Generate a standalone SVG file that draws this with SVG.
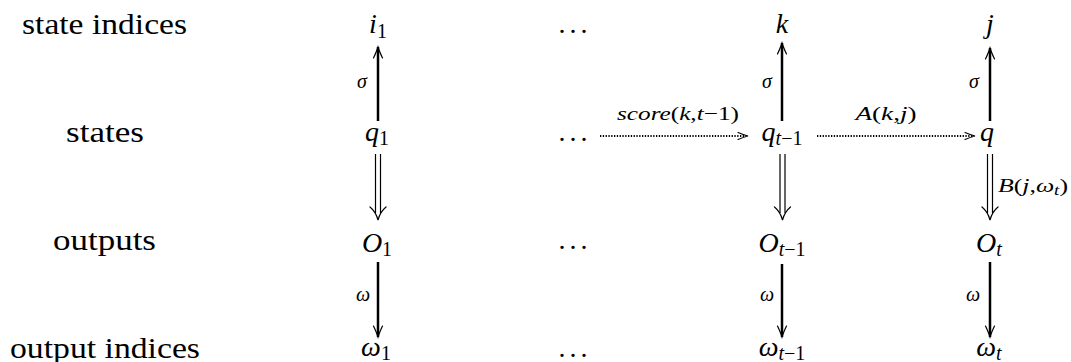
<svg xmlns="http://www.w3.org/2000/svg" width="1071" height="362" viewBox="0 0 1071 362" font-family="Liberation Serif">
<style>
.t{font-family:"Liberation Serif",serif;fill:#000}
.lbl{font-size:30px}
.m{font-size:28px;text-anchor:middle}
.it{font-style:italic}
.sub{font-size:20px;font-style:normal}
.subi{font-size:20px;font-style:italic}
.s{font-size:19px}
.gl{font-size:20px;font-style:italic}
.dots{font-size:28px;text-anchor:middle;letter-spacing:4px}
.solid{stroke:#000;stroke-width:2.5;fill:none}
.dbl{stroke:#000;stroke-width:1.2;fill:none}
.dot{stroke:#000;stroke-width:2.2;fill:none;stroke-dasharray:1.3 1.5}
.head{stroke:#000;stroke-width:1.2;fill:none;stroke-linecap:round}
</style>
<defs>
<marker id="vee" viewBox="-12 -6 14 12" refX="0" refY="0" markerWidth="14" markerHeight="12" markerUnits="userSpaceOnUse" orient="auto">
<path d="M-11,-4.5 Q-4,-1.2 0,0 Q-4,1.2 -11,4.5" class="head"/>
</marker>
</defs>

<g id="row-labels">
<text class="t lbl" font-family="Liberation Serif" x="22" y="34" textLength="165" lengthAdjust="spacingAndGlyphs">state indices</text>
<text class="t lbl" font-family="Liberation Serif" x="66" y="142" textLength="78" lengthAdjust="spacingAndGlyphs">states</text>
<text class="t lbl" font-family="Liberation Serif" x="53" y="250" textLength="103" lengthAdjust="spacingAndGlyphs">outputs</text>
<text class="t lbl" font-family="Liberation Serif" x="10" y="358" textLength="190" lengthAdjust="spacingAndGlyphs">output indices</text>
</g>

<g id="n-i1"><text class="t m" font-family="Liberation Serif" x="378" y="33"><tspan class="it">i</tspan><tspan class="sub" dy="5">1</tspan></text></g>
<g id="n-k"><text class="t m it" font-family="Liberation Serif" x="782" y="33">k</text></g>
<g id="n-j"><text class="t m it" font-family="Liberation Serif" x="990" y="33">j</text></g>

<g id="n-q1"><text class="t m" font-family="Liberation Serif" x="377" y="141"><tspan class="it">q</tspan><tspan class="sub" dy="4">1</tspan></text></g>
<g id="n-qt1"><text class="t m" font-family="Liberation Serif" x="782" y="141"><tspan class="it">q</tspan><tspan class="subi" dy="4">t</tspan><tspan class="sub">−1</tspan></text></g>
<g id="n-q"><text class="t m it" font-family="Liberation Serif" x="987" y="141">q</text></g>

<g id="n-O1"><text class="t m" font-family="Liberation Serif" x="377" y="252"><tspan class="it">O</tspan><tspan class="sub" dy="4">1</tspan></text></g>
<g id="n-Ot1"><text class="t m" font-family="Liberation Serif" x="782" y="252"><tspan class="it">O</tspan><tspan class="subi" dy="4">t</tspan><tspan class="sub">−1</tspan></text></g>
<g id="n-Ot"><text class="t m" font-family="Liberation Serif" x="989" y="252"><tspan class="it">O</tspan><tspan class="subi" dy="4">t</tspan></text></g>

<g id="n-w1"><text class="t m" font-family="Liberation Serif" x="376" y="356"><tspan class="it">ω</tspan><tspan class="sub" dy="4">1</tspan></text></g>
<g id="n-wt1"><text class="t m" font-family="Liberation Serif" x="782" y="356"><tspan class="it">ω</tspan><tspan class="subi" dy="4">t</tspan><tspan class="sub">−1</tspan></text></g>
<g id="n-wt"><text class="t m" font-family="Liberation Serif" x="989" y="356"><tspan class="it">ω</tspan><tspan class="subi" dy="4">t</tspan></text></g>

<g id="ellipses">
<text class="t dots" font-family="Liberation Serif" x="575" y="33">...</text>
<text class="t dots" font-family="Liberation Serif" x="575" y="141">...</text>
<text class="t dots" font-family="Liberation Serif" x="575" y="249">...</text>
<text class="t dots" font-family="Liberation Serif" x="575" y="357">...</text>
</g>

<g id="connectors">
<line class="solid" x1="378" y1="121" x2="378" y2="47" marker-end="url(#vee)"/>
<line class="solid" x1="782" y1="121" x2="782" y2="43" marker-end="url(#vee)"/>
<line class="solid" x1="990" y1="121" x2="990" y2="48" marker-end="url(#vee)"/>

<line class="dbl" x1="375.5" y1="154" x2="375.5" y2="213"/>
<line class="dbl" x1="380.5" y1="154" x2="380.5" y2="213"/>
<path class="head" d="M370,207 Q376,212 378,220 Q380,212 386,207"/>
<line class="dbl" x1="780" y1="154" x2="780" y2="213"/>
<line class="dbl" x1="785" y1="154" x2="785" y2="213"/>
<path class="head" d="M774.5,207 Q780.5,212 782.5,220 Q784.5,212 790.5,207"/>
<line class="dbl" x1="987.5" y1="154" x2="987.5" y2="213"/>
<line class="dbl" x1="992.5" y1="154" x2="992.5" y2="213"/>
<path class="head" d="M982,207 Q988,212 990,220 Q992,212 998,207"/>

<line class="solid" x1="378" y1="262" x2="378" y2="337" marker-end="url(#vee)"/>
<line class="solid" x1="782" y1="264" x2="782" y2="337" marker-end="url(#vee)"/>
<line class="solid" x1="990" y1="262" x2="990" y2="337" marker-end="url(#vee)"/>

<line class="dot" x1="600" y1="136" x2="746" y2="136"/>
<path class="head" d="M738,132.5 Q744,135 748,136 Q744,137 738,139.5"/>
<line class="dot" x1="817" y1="136" x2="973" y2="136"/>
<path class="head" d="M965,132.5 Q971,135 975,136 Q971,137 965,139.5"/>

<text class="t gl" font-family="Liberation Serif" x="357" y="88">σ</text>
<text class="t gl" font-family="Liberation Serif" x="762" y="88">σ</text>
<text class="t gl" font-family="Liberation Serif" x="969" y="88">σ</text>
<text class="t gl" font-family="Liberation Serif" x="356" y="301">ω</text>
<text class="t gl" font-family="Liberation Serif" x="760" y="301">ω</text>
<text class="t gl" font-family="Liberation Serif" x="966" y="301">ω</text>

<text class="t s" font-family="Liberation Serif" x="678" y="120" text-anchor="middle" textLength="122" lengthAdjust="spacingAndGlyphs"><tspan class="it">score</tspan>(<tspan class="it">k</tspan>,<tspan class="it">t</tspan>−1)</text>
<text class="t s" font-family="Liberation Serif" x="886" y="120" text-anchor="middle" textLength="61" lengthAdjust="spacingAndGlyphs"><tspan class="it">A</tspan>(<tspan class="it">k</tspan>,<tspan class="it">j</tspan>)</text>
<text class="t s" font-family="Liberation Serif" x="998" y="192" textLength="70" lengthAdjust="spacingAndGlyphs"><tspan class="it">B</tspan>(<tspan class="it">j</tspan>,<tspan class="it">ω</tspan><tspan font-size="14" font-style="italic" dy="3">t</tspan><tspan dy="-3">)</tspan></text>
</g>
</svg>
